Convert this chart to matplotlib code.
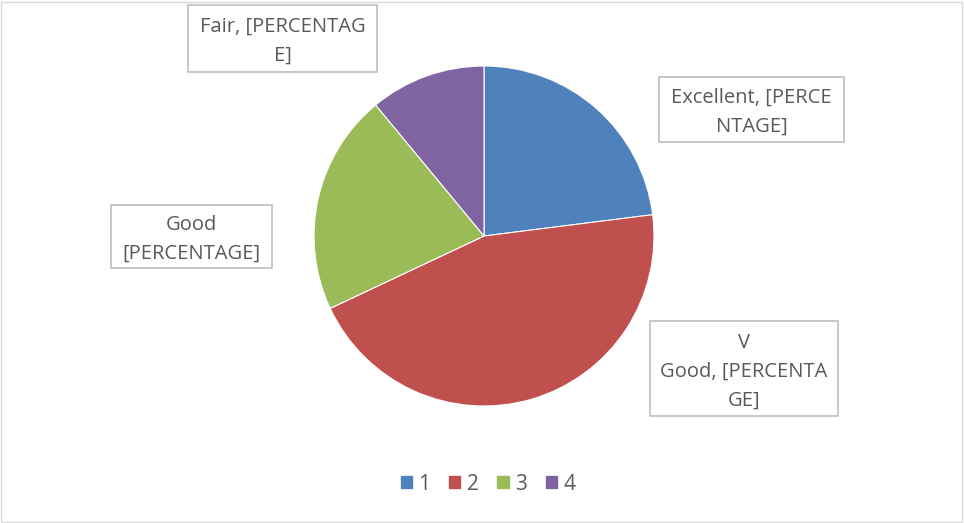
import matplotlib
matplotlib.use("Agg")
import matplotlib.pyplot as plt
from matplotlib.patches import Rectangle, Patch

plt.rcParams['font.family'] = ['Open Sans', 'DejaVu Sans']

categories = ['1', '2', '3', '4']
values = [23, 45, 21, 11]
colors = ['#4F81BD', '#C0504D', '#9BBB59', '#8064A2']
label_texts = [
    'Excellent, [PERCE\nNTAGE]',
    'V\nGood, [PERCENTA\nGE]',
    'Good\n[PERCENTAGE]',
    'Fair, [PERCENTAG\nE]',
]
# label boxes in pixel coords: x0, y0 (top), x1, y1 (bottom)
label_boxes = [
    (659, 77, 844, 142),
    (650, 321, 838, 416),
    (111, 205, 272, 268),
    (188, 5, 377, 72),
]

W, H = 964, 523
fig = plt.figure(figsize=(W / 100, H / 100), dpi=100)
text_color = '#595959'

# outer border
fig.patches.append(Rectangle((1 / W, 1 / H), (W - 3) / W, (H - 3) / H,
                             transform=fig.transFigure, fill=False,
                             edgecolor='#d9d9d9', linewidth=1))

cx, cy, r = 484, 236, 170
ax = fig.add_axes([(cx - r) / W, (H - cy - r) / H, 2 * r / W, 2 * r / H])
ax.pie(values, colors=colors, startangle=90, counterclock=False,
       radius=1, wedgeprops=dict(edgecolor='white', linewidth=0.8))
ax.set_xlim(-1, 1)
ax.set_ylim(-1, 1)
ax.set_aspect('equal')
ax.axis('off')

for txt, (x0, y0, x1, y1) in zip(label_texts, label_boxes):
    fig.patches.append(Rectangle((x0 / W, (H - y1) / H), (x1 - x0) / W, (y1 - y0) / H,
                                 transform=fig.transFigure, facecolor='white',
                                 edgecolor='#bfbfbf', linewidth=1.2))
    fig.text((x0 + x1) / 2 / W, (H - (y0 + y1) / 2 - 3) / H, txt,
             ha='center', va='center', fontsize=14.5, color=text_color,
             linespacing=1.6)

handles = [Patch(facecolor=c, edgecolor=c) for c in colors]
fig.legend(handles, categories, loc='center', bbox_to_anchor=(488 / W, (H - 484) / H),
           ncol=4, frameon=False, fontsize=15, labelcolor=text_color,
           handlelength=0.55, handleheight=0.55, handletextpad=0.3,
           columnspacing=0.9)

fig.savefig('out.png', dpi=100)
